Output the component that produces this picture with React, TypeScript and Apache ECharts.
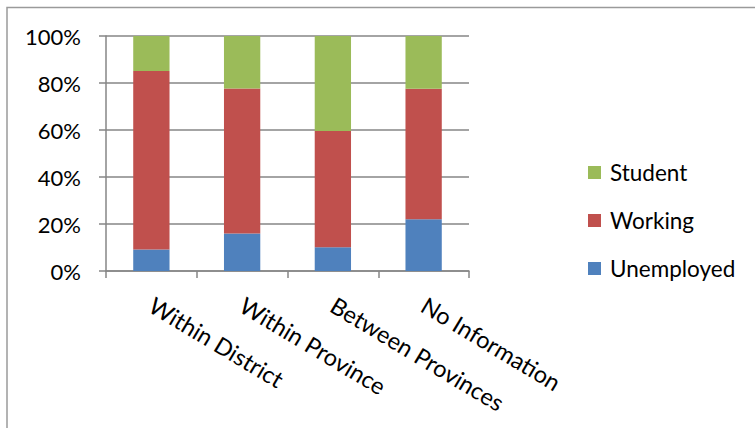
import React, { useEffect, useRef } from "react";
import * as echarts from "echarts";

const categories = ["Within District", "Within Province", "Between Provinces", "No Information"];
const unemployed = [9.2, 16.0, 10.1, 22.0];
const working = [75.9, 61.7, 49.5, 55.6];
const student = [14.9, 22.3, 40.4, 22.4];
const yTicks = [0, 20, 40, 60, 80, 100];

const FONT = "Lato, 'Noto Sans', sans-serif";

export default function App() {
  const ref = useRef<HTMLDivElement>(null);
  useEffect(() => {
    if (!ref.current) return;
    const chart = echarts.init(ref.current, undefined, { renderer: "svg" });
    const barW = "40%";
    chart.setOption({
      animation: false,
      backgroundColor: "#ffffff",
      textStyle: { fontFamily: FONT },
      grid: { left: 106, top: 36, width: 363, height: 235, containLabel: false },
      legend: {
        orient: "vertical",
        left: 583,
        top: 156,
        itemWidth: 13,
        itemHeight: 13,
        itemGap: 25,
        icon: "rect",
        data: ["Student", "Working", "Unemployed"],
        textStyle: { fontSize: 22.5, color: "#000", fontFamily: FONT, padding: [0, 0, 0, 4] },
      },
      xAxis: {
        type: "category",
        data: categories,
        axisLine: { show: true, lineStyle: { color: "#868686", width: 1.5 } },
        axisTick: { show: true, length: 7, lineStyle: { color: "#868686", width: 1.5 } },
        axisLabel: {
          rotate: -31,
          margin: 32,
          fontSize: 23.5,
          color: "#000",
          fontFamily: FONT,
          interval: 0,
        },
      },
      yAxis: {
        type: "value",
        min: yTicks[0],
        max: yTicks[yTicks.length - 1],
        interval: 20,
        axisLine: { show: true, lineStyle: { color: "#868686", width: 1.5 } },
        axisTick: { show: true, length: 7, lineStyle: { color: "#868686", width: 1.5 } },
        splitLine: { show: true, lineStyle: { color: "#868686", width: 1.5 } },
        axisLabel: {
          margin: 25,
          fontSize: 22,
          color: "#000",
          fontFamily: FONT,
          formatter: (v: number) => `${v}%`,
        },
      },
      series: [
        { name: "Unemployed", type: "bar", stack: "t", data: unemployed, barWidth: barW, itemStyle: { color: "#4F81BD" } },
        { name: "Working", type: "bar", stack: "t", data: working, barWidth: barW, itemStyle: { color: "#C0504D" } },
        { name: "Student", type: "bar", stack: "t", data: student, barWidth: barW, itemStyle: { color: "#9BBB59" } },
      ],
      graphic: [
        {
          type: "rect",
          shape: { x: 7, y: 7.5, width: 900, height: 600 },
          style: { fill: "none", stroke: "#9a9a9a", lineWidth: 1.5 },
          silent: true,
        },
      ],
    });
    return () => chart.dispose();
  }, []);
  return (
    <div
      ref={ref}
      style={{ position: "absolute", left: 0, top: 0, width: 755, height: 428 }}
    />
  );
}
